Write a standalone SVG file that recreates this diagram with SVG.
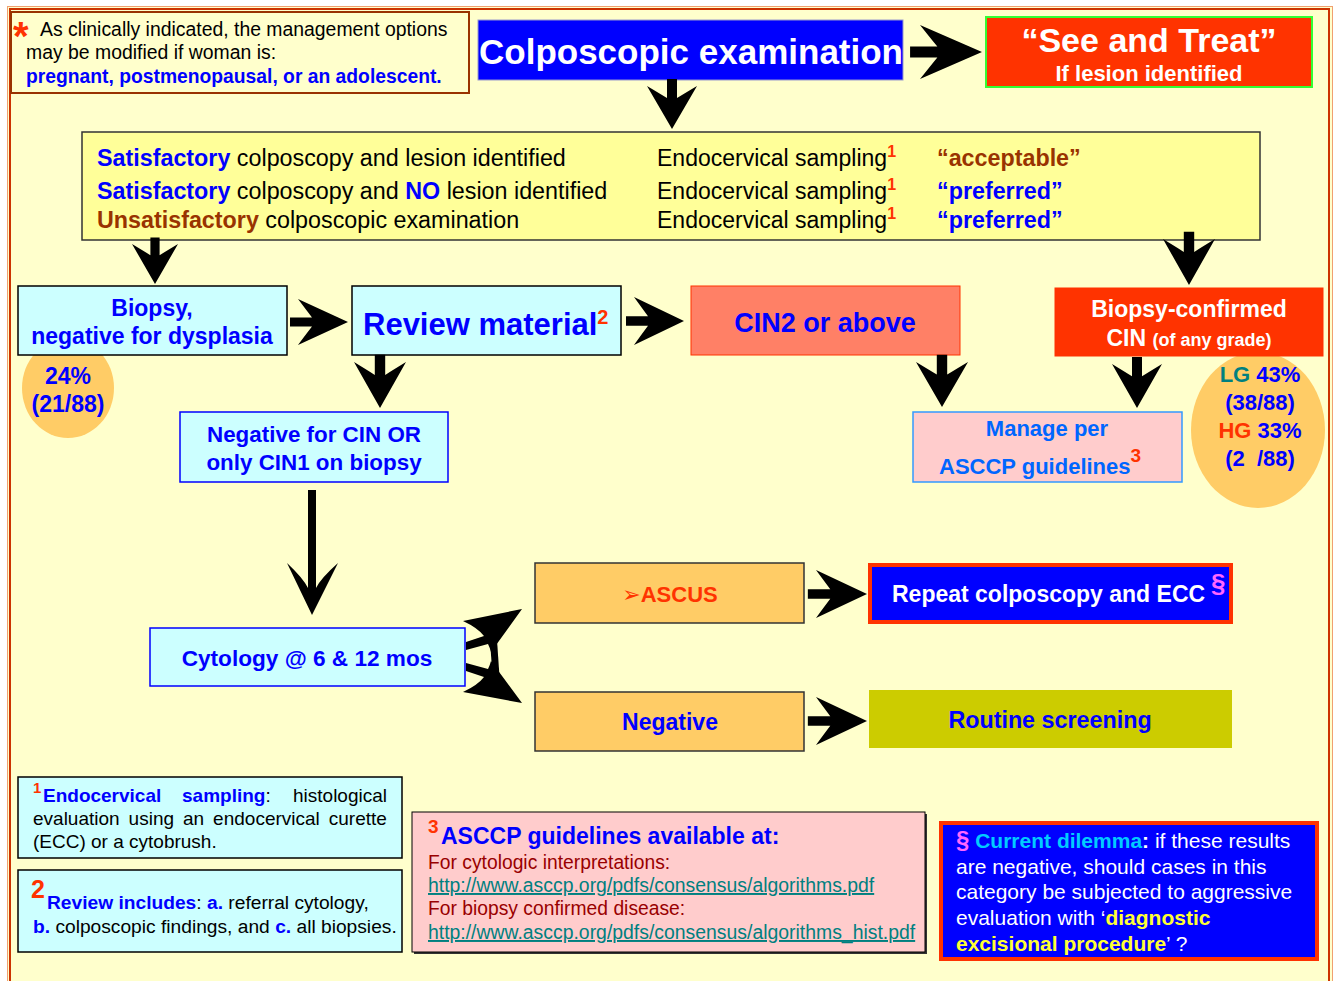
<svg xmlns="http://www.w3.org/2000/svg" xmlns:xlink="http://www.w3.org/1999/xlink" width="1334" height="981" viewBox="0 0 1334 981">
<style>
text{font-family:"Liberation Sans",Arial,"DejaVu Sans",sans-serif;}
.b{font-weight:bold;}
.blue{fill:#0000FF;}
.brown{fill:#993300;}
.red{fill:#FF3300;}
.wh{fill:#FFFFFF;}
.blk{fill:#000000;}
.mid{text-anchor:middle;}
.arr{fill:#000000;}
</style>
<defs>
<path id="ah" d="M0,0 L-50,-25 Q-41,-12 -36,-5 L-58,-5 L-58,5 L-36,5 Q-41,12 -50,25 Z"/>
</defs>
<rect x="0" y="0" width="1334" height="981" fill="#FFFFFF"/>
<rect x="7.5" y="6.5" width="1325" height="1000" fill="#FFFFCC" stroke="#F0A070" stroke-width="1"/>
<rect x="10" y="9" width="1319" height="1000" fill="none" stroke="#CC3300" stroke-width="2"/>

<g id="note">
<rect x="11" y="12" width="458" height="81" fill="#FFFFCC" stroke="#993300" stroke-width="2"/>
<text x="13" y="50" font-size="40" class="b red">*</text>
<text x="40" y="36" font-size="19.4" class="blk">As clinically indicated, the management options</text>
<text x="26" y="59" font-size="19.4" class="blk">may be modified if woman is:</text>
<text x="26" y="83" font-size="19.3" class="b blue">pregnant, postmenopausal, or an adolescent.</text>
</g>

<g id="colposcopic">
<rect x="478" y="20" width="425" height="60" fill="#0000FF" stroke="#9999CC" stroke-width="1"/>
<text x="691" y="64" font-size="35" class="b wh mid">Colposcopic examination</text>
</g>

<g id="seetreat">
<rect x="986" y="17" width="326" height="70" fill="#FF3300" stroke="#33FF33" stroke-width="2"/>
<text x="1149" y="52" font-size="34" class="b wh mid">“See and Treat”</text>
<text x="1149" y="81" font-size="22" class="b wh mid">If lesion identified</text>
</g>

<g id="options">
<rect x="82" y="132" width="1178" height="108" fill="#FFFF99" stroke="#333333" stroke-width="1.5"/>
<text x="97" y="166" font-size="23.3" class="blk"><tspan class="b blue">Satisfactory</tspan> colposcopy and lesion identified</text>
<text x="97" y="199" font-size="23.3" class="blk"><tspan class="b blue">Satisfactory</tspan> colposcopy and <tspan class="b blue">NO</tspan> lesion identified</text>
<text x="97" y="228" font-size="23.3" class="blk"><tspan class="b brown">Unsatisfactory</tspan> colposcopic examination</text>
<text x="657" y="166" font-size="23" class="blk">Endocervical sampling<tspan class="b red" font-size="16" dy="-9">1</tspan></text>
<text x="657" y="199" font-size="23" class="blk">Endocervical sampling<tspan class="b red" font-size="16" dy="-9">1</tspan></text>
<text x="657" y="228" font-size="23" class="blk">Endocervical sampling<tspan class="b red" font-size="16" dy="-9">1</tspan></text>
<text x="937" y="166" font-size="23.3" class="b brown">“acceptable”</text>
<text x="937" y="199" font-size="23.3" class="b blue">“preferred”</text>
<text x="937" y="228" font-size="23.3" class="b blue">“preferred”</text>
</g>

<g id="pct-left">
<ellipse cx="68" cy="388" rx="46" ry="50" fill="#FFCC66"/>
<text x="68" y="384" font-size="23" class="b blue mid">24%</text>
<text x="68" y="412" font-size="23" class="b blue mid">(21/88)</text>
</g>

<g id="pct-right">
<ellipse cx="1258" cy="430" rx="67" ry="78" fill="#FFCC66"/>
<text x="1260" y="382" font-size="22" class="b mid"><tspan fill="#008080">LG</tspan><tspan class="blue"> 43%</tspan></text>
<text x="1260" y="410" font-size="22" class="b blue mid">(38/88)</text>
<text x="1260" y="438" font-size="22" class="b mid"><tspan class="red">HG</tspan><tspan class="blue"> 33%</tspan></text>
<text x="1260" y="466" font-size="22" class="b blue mid" xml:space="preserve">(2  /88)</text>
</g>

<g id="biopsy">
<rect x="18" y="286" width="269" height="69" fill="#CCFFFF" stroke="#000000" stroke-width="1.5"/>
<text x="152" y="316" font-size="23" class="b blue mid">Biopsy,</text>
<text x="152" y="344" font-size="23" class="b blue mid">negative for dysplasia</text>
</g>

<g id="review">
<rect x="352" y="286" width="269" height="69" fill="#CCFFFF" stroke="#000000" stroke-width="1.5"/>
<text x="363" y="335" font-size="31" class="b blue">Review material<tspan class="red" font-size="20" dy="-11">2</tspan></text>
</g>

<g id="cin2">
<rect x="691" y="286" width="269" height="69" fill="#FF8066" stroke="#FF3300" stroke-width="1"/>
<text x="825" y="332" font-size="27" class="b blue mid">CIN2 or above</text>
</g>

<g id="biopsyconfirmed">
<rect x="1055" y="288" width="268" height="68" fill="#FF3300" stroke="#FF3300" stroke-width="1"/>
<text x="1189" y="317" font-size="23" class="b wh mid">Biopsy-confirmed</text>
<text x="1189" y="346" font-size="23" class="b wh mid">CIN <tspan font-size="18">(of any grade)</tspan></text>
</g>

<g id="negcin">
<rect x="180" y="412" width="268" height="70" fill="#CCFFFF" stroke="#0000FF" stroke-width="1.5"/>
<text x="314" y="442" font-size="22.4" class="b blue mid">Negative for CIN OR</text>
<text x="314" y="470" font-size="22.4" class="b blue mid">only CIN1 on biopsy</text>
</g>

<g id="manage">
<rect x="913" y="412" width="269" height="70" fill="#FFCCCC" stroke="#3399FF" stroke-width="1.5"/>
<text x="1047" y="436" font-size="22" class="b mid" fill="#0066FF">Manage per</text>
<text x="939" y="474" font-size="22" class="b" fill="#0066FF">ASCCP guidelines<tspan class="red" font-size="19" dy="-12">3</tspan></text>
</g>

<g id="cytology">
<rect x="150" y="628" width="315" height="58" fill="#CCFFFF" stroke="#0000FF" stroke-width="1.5"/>
<text x="307" y="666" font-size="22.6" class="b blue mid">Cytology @ 6 &amp; 12 mos</text>
</g>

<g id="ascus">
<rect x="535" y="563" width="269" height="60" fill="#FFCC66" stroke="#333333" stroke-width="1.5"/>
<text x="670" y="602" font-size="22" class="b red mid"><tspan font-family="DejaVu Sans" font-size="22" font-weight="normal">➢</tspan>ASCUS</text>
</g>

<g id="repeat">
<rect x="870" y="565" width="361" height="57" fill="#0000FF" stroke="#FF3300" stroke-width="4"/>
<text x="892" y="602" font-size="23" class="b wh">Repeat colposcopy and ECC</text>
<text x="1211" y="592" font-size="26" class="b" fill="#FF66FF">§</text>
</g>

<g id="negative">
<rect x="535" y="692" width="269" height="59" fill="#FFCC66" stroke="#333333" stroke-width="1.5"/>
<text x="670" y="730" font-size="23" class="b blue mid">Negative</text>
</g>

<g id="routine">
<rect x="869" y="690" width="363" height="58" fill="#CCCC00"/>
<text x="1050" y="728" font-size="23.3" class="b blue mid">Routine screening</text>
</g>

<g id="fn1">
<rect x="18" y="777" width="384" height="81" fill="#CCFFFF" stroke="#000000" stroke-width="1.5"/>
<text x="33" y="793" font-size="15" class="b red">1</text>
<text x="43" y="802" font-size="19" class="b blue">Endocervical</text>
<text x="182" y="802" font-size="19" class="blk"><tspan class="b blue">sampling</tspan>:</text>
<text x="387" y="802" font-size="19" class="blk" text-anchor="end">histological</text>
<text x="33" y="825" font-size="19" class="blk" word-spacing="3.7">evaluation using an endocervical curette</text>
<text x="33" y="848" font-size="19" class="blk">(ECC) or a cytobrush.</text>
</g>

<g id="fn2">
<rect x="18" y="870" width="384" height="82" fill="#CCFFFF" stroke="#000000" stroke-width="1.5"/>
<text x="31" y="898" font-size="25" class="b red">2</text>
<text x="47" y="909" font-size="19.2" class="blk"><tspan class="b blue">Review includes</tspan>: <tspan class="b blue">a.</tspan> referral cytology,</text>
<text x="33" y="933" font-size="19.2" class="blk"><tspan class="b blue">b.</tspan> colposcopic findings, and <tspan class="b blue">c.</tspan> all biopsies.</text>
</g>

<g id="fn3">
<rect x="414" y="814" width="513" height="140" fill="#333333"/>
<rect x="412" y="812" width="513" height="140" fill="#FFCCCC" stroke="#000000" stroke-width="1"/>
<text x="428" y="833" font-size="19" class="b red">3</text>
<text x="441" y="844" font-size="23" class="b blue">ASCCP guidelines available at:</text>
<text x="428" y="869" font-size="19.3" fill="#990000">For cytologic interpretations:</text>
<text x="428" y="892" font-size="19.4" fill="#008080" text-decoration="underline">http://www.asccp.org/pdfs/consensus/algorithms.pdf</text>
<text x="428" y="915" font-size="19.3" fill="#990000">For biopsy confirmed disease:</text>
<text x="428" y="939" font-size="19.4" fill="#008080" text-decoration="underline">http://www.asccp.org/pdfs/consensus/algorithms_hist.pdf</text>
</g>

<g id="dilemma">
<rect x="941" y="823" width="376" height="136" fill="#0000FF" stroke="#FF3300" stroke-width="4"/>
<text x="956" y="848" font-size="21" class="wh"><tspan class="b" fill="#FF66FF" font-size="24">§</tspan> <tspan class="b" fill="#00CCFF">Current dilemma</tspan><tspan class="b">:</tspan> if these results</text>
<text x="956" y="874" font-size="21" class="wh">are negative, should cases in this</text>
<text x="956" y="899" font-size="21" class="wh">category be subjected to aggressive</text>
<text x="956" y="925" font-size="21" class="wh">evaluation with ‘<tspan class="b" fill="#FFFF33">diagnostic</tspan></text>
<text x="956" y="951" font-size="21" class="wh"><tspan class="b" fill="#FFFF33">excisional procedure</tspan>’ ?</text>
</g>

<g id="connectors" class="arr">
<use xlink:href="#ah" transform="translate(982,52) scale(1.24,1.08)"/>
<use xlink:href="#ah" transform="translate(672,129) rotate(90) scale(0.86,1)"/>
<use xlink:href="#ah" transform="translate(155,284) rotate(90) scale(0.8,0.92)"/>
<use xlink:href="#ah" transform="translate(1189,285) rotate(90) scale(0.92,1.04)"/>
<use xlink:href="#ah" transform="translate(348,322) scale(1,0.92)"/>
<use xlink:href="#ah" transform="translate(684,321) scale(1,0.96)"/>
<use xlink:href="#ah" transform="translate(380,408) rotate(90) scale(0.92,1.04)"/>
<use xlink:href="#ah" transform="translate(942,407) rotate(90) scale(0.9,1.04)"/>
<use xlink:href="#ah" transform="translate(1137,408) rotate(90) scale(0.88,1)"/>
<use xlink:href="#ah" transform="translate(867,594) scale(1.02,0.96)"/>
<use xlink:href="#ah" transform="translate(867,721) scale(1.02,0.96)"/>
<path d="M312,615 L287,563 Q303,578 308,588 L308,490 L316,490 L316,588 Q321,578 338,563 Z"/>
<path d="M522,609 L463,621 Q478,628 484,636 L466,642 L466,650 L488,644 Q490,648 491,652 Z"/>
<path d="M522,703 L463,692 Q478,685 484,677 L466,671 L466,663 L488,669 Q490,665 491,661 Z"/>
<path d="M490,640 L497,640 L500,684 L493,684 Z"/>
</g>
</svg>
